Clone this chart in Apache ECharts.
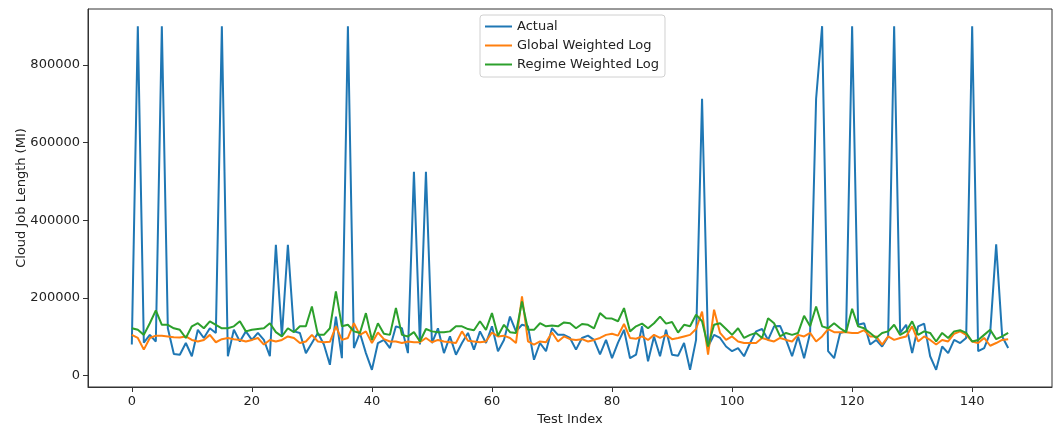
<!DOCTYPE html>
<html>
<head>
<meta charset="utf-8">
<script src="https://cdn.jsdelivr.net/npm/echarts@6/dist/echarts.min.js"></script>
<style>
	html, body {margin: 0; padding: 0; background: #fff;}
	#main {width: 1059px; height: 428px;}
</style>
</head>
<body>
<div id="main"></div>
<script>
var seriesNames = ['Actual', 'Global Weighted Log', 'Regime Weighted Log'];

var actual = [
	80000, 900000, 85000, 105000, 88000, 900000, 122000, 56000, 54000, 84000,
	50000, 118000, 97000, 122000, 110000, 900000, 50000, 118000, 88000, 114000,
	92000, 110000, 92000, 50000, 337000, 101000, 337000, 114000, 110000, 58000,
	84000, 110000, 80000, 28000, 152000, 45000, 900000, 71000, 110000, 58000,
	15000, 84000, 92000, 71000, 127000, 122000, 58000, 525000, 80000, 525000,
	84000, 122000, 58000, 101000, 54000, 84000, 110000, 67000, 114000, 84000,
	127000, 63000, 92000, 152000, 114000, 131000, 127000, 41000, 84000, 63000,
	122000, 105000, 105000, 97000, 67000, 97000, 103000, 92000, 55000, 92000,
	45000, 85000, 118000, 45000, 54000, 127000, 37000, 101000, 50000, 118000,
	54000, 51000, 84000, 15000, 92000, 713000, 75000, 105000, 97000, 75000,
	63000, 71000, 50000, 84000, 114000, 120000, 92000, 127000, 128000, 92000,
	50000, 101000, 45000, 110000, 713000, 900000, 63000, 45000, 110000, 114000,
	900000, 131000, 135000, 80000, 92000, 75000, 100000, 900000, 110000, 131000,
	58000, 127000, 134000, 50000, 15000, 75000, 58000, 92000, 84000, 97000,
	900000, 63000, 71000, 110000, 338000, 101000, 71000
];

var globalLog = [
	105000, 97000, 67000, 97000, 103000, 103000, 101000, 99000, 98000, 101000,
	92000, 88000, 92000, 105000, 86000, 94000, 97000, 94000, 92000, 88000,
	92000, 97000, 80000, 92000, 88000, 92000, 101000, 97000, 84000, 88000,
	105000, 88000, 86000, 87000, 127000, 92000, 97000, 135000, 105000, 114000,
	84000, 111000, 94000, 88000, 88000, 84000, 88000, 86000, 86000, 97000,
	86000, 92000, 88000, 86000, 84000, 114000, 90000, 88000, 86000, 88000,
	111000, 101000, 103000, 97000, 84000, 204000, 88000, 80000, 88000, 86000,
	111000, 88000, 101000, 94000, 92000, 94000, 88000, 92000, 97000, 105000,
	108000, 103000, 133000, 97000, 95000, 101000, 92000, 105000, 97000, 105000,
	94000, 97000, 101000, 105000, 120000, 165000, 54000, 170000, 110000, 92000,
	101000, 88000, 84000, 84000, 84000, 97000, 92000, 88000, 97000, 92000,
	88000, 105000, 101000, 110000, 88000, 101000, 120000, 112000, 112000, 112000,
	110000, 110000, 117000, 101000, 101000, 80000, 101000, 92000, 97000, 101000,
	127000, 88000, 101000, 92000, 80000, 92000, 88000, 108000, 114000, 105000,
	88000, 84000, 97000, 77000, 84000, 92000, 94000
];

var regimeLog = [
	122000, 118000, 105000, 135000, 168000, 131000, 131000, 122000, 118000, 97000,
	127000, 135000, 122000, 140000, 131000, 122000, 122000, 127000, 140000, 114000,
	118000, 120000, 122000, 135000, 112000, 101000, 122000, 112000, 127000, 127000,
	178000, 105000, 105000, 122000, 217000, 127000, 131000, 114000, 110000, 161000,
	92000, 135000, 108000, 105000, 174000, 105000, 101000, 112000, 88000, 120000,
	114000, 112000, 112000, 114000, 127000, 127000, 120000, 117000, 140000, 118000,
	161000, 103000, 131000, 112000, 110000, 191000, 118000, 118000, 135000, 127000,
	129000, 127000, 137000, 135000, 122000, 133000, 131000, 122000, 161000, 148000,
	147000, 140000, 174000, 114000, 127000, 134000, 122000, 135000, 152000, 134000,
	138000, 111000, 131000, 127000, 157000, 140000, 75000, 131000, 135000, 120000,
	105000, 122000, 97000, 105000, 110000, 97000, 148000, 135000, 101000, 110000,
	105000, 110000, 154000, 127000, 178000, 127000, 122000, 135000, 122000, 112000,
	172000, 127000, 122000, 110000, 97000, 110000, 114000, 131000, 105000, 114000,
	140000, 105000, 114000, 110000, 88000, 110000, 97000, 114000, 117000, 110000,
	88000, 92000, 105000, 118000, 94000, 101000, 110000
];

var xTicks = [0, 20, 40, 60, 80, 100, 120, 140];
var yTicks = [0, 200000, 400000, 600000, 800000];

var colors = ['#1f77b4', '#ff7f0e', '#2ca02c'];

function pairs(values) {
	return values.map(function (v, i) { return [i, v]; });
}

var myChart = echarts.init(document.getElementById('main'));

var axisText = {color: '#222', fontSize: 13, fontFamily: 'DejaVu Sans'};

var option = {
	animation: false,
	color: colors,
	textStyle: {fontFamily: 'DejaVu Sans'},
	grid: {
		left: 88, right: 7, top: 9, bottom: 41,
		outerBoundsMode: 'none',
		show: true, borderColor: '#333', borderWidth: 1
	},
	legend: {
		orient: 'vertical',
		left: 480, top: 15,
		padding: [4, 6, 5, 5],
		icon: 'rect',
		itemWidth: 27, itemHeight: 2, itemGap: 4,
		backgroundColor: 'rgba(255,255,255,0.8)',
		borderColor: '#d0d0d0', borderWidth: 1, borderRadius: 3,
		textStyle: {color: '#222', fontSize: 13, fontFamily: 'DejaVu Sans', lineHeight: 15},
		data: seriesNames
	},
	xAxis: {
		type: 'value',
		min: -7.3, max: 153.3,
		name: 'Test Index',
		nameLocation: 'middle',
		nameGap: 26,
		nameMoveOverlap: false,
		nameTextStyle: axisText,
		axisLine: {show: true, onZero: false, lineStyle: {color: '#333'}},
		axisTick: {show: true, length: 5, lineStyle: {color: '#333'}, customValues: xTicks},
		axisLabel: Object.assign({margin: 8, customValues: xTicks}, axisText),
		splitLine: {show: false}
	},
	yAxis: {
		type: 'value',
		min: -29250, max: 944250,
		name: 'Cloud Job Length (MI)',
		nameLocation: 'middle',
		nameGap: 60,
		nameMoveOverlap: false,
		nameTextStyle: axisText,
		axisLine: {show: true, onZero: false, lineStyle: {color: '#333'}},
		axisTick: {show: true, length: 5, lineStyle: {color: '#333'}, customValues: yTicks},
		axisLabel: Object.assign({
			margin: 8,
			customValues: yTicks,
			formatter: function (v) { return String(v); }
		}, axisText),
		splitLine: {show: false}
	},
	series: [
		{
			name: seriesNames[0],
			type: 'line',
			symbol: 'none',
			lineStyle: {width: 2},
			data: pairs(actual)
		},
		{
			name: seriesNames[1],
			type: 'line',
			symbol: 'none',
			lineStyle: {width: 2},
			data: pairs(globalLog)
		},
		{
			name: seriesNames[2],
			type: 'line',
			symbol: 'none',
			lineStyle: {width: 2},
			data: pairs(regimeLog)
		}
	]
};

myChart.setOption(option);
</script>
</body>
</html>
